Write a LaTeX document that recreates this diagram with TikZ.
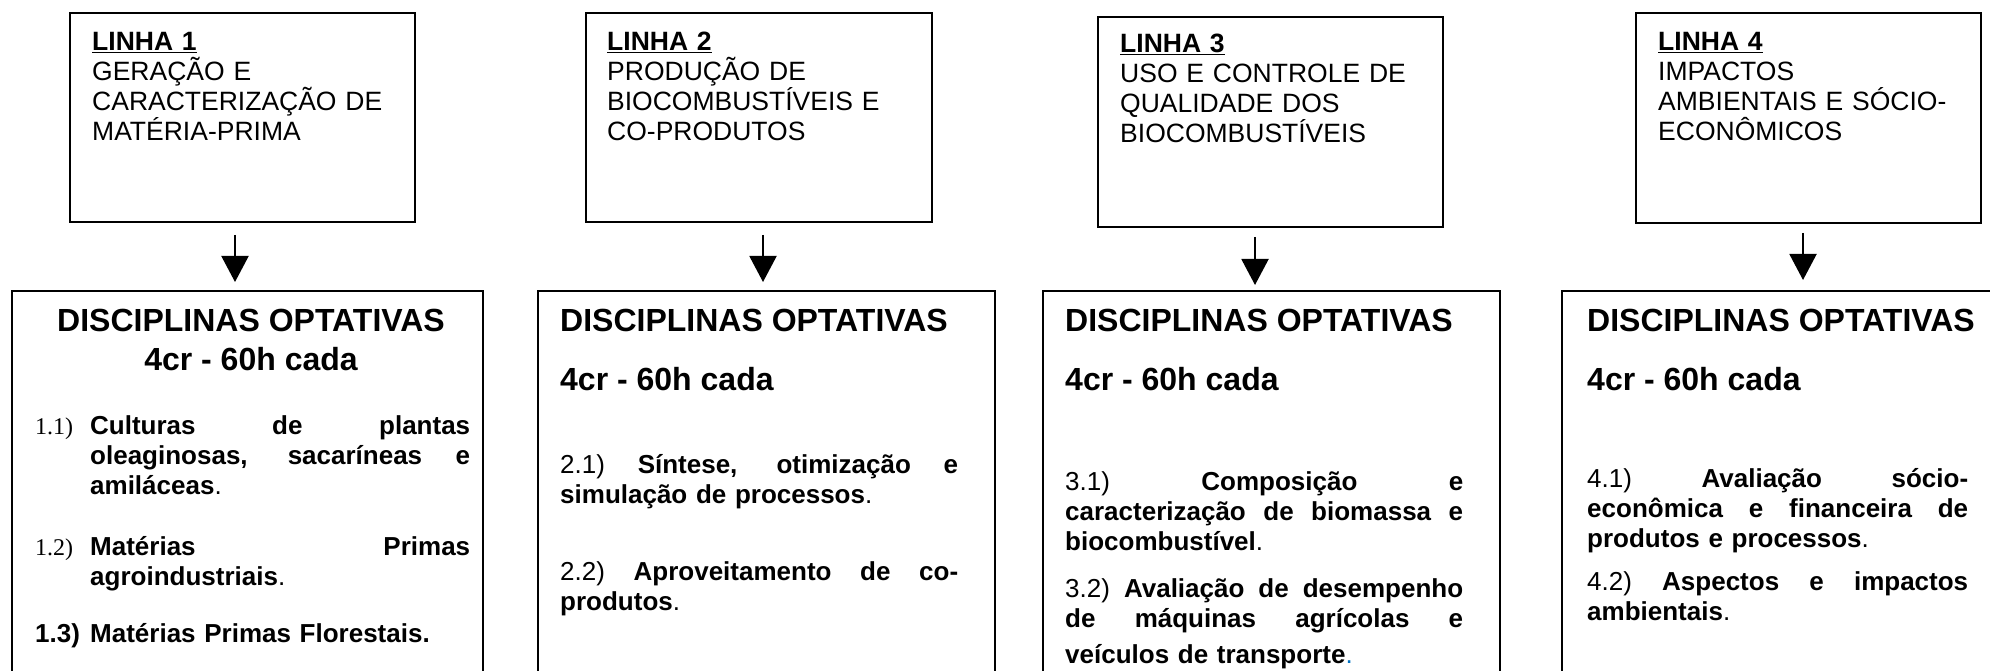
\documentclass[tikz,border=0pt]{standalone}
\usepackage{fontspec}
\setmainfont{Liberation Sans}
\newfontfamily\numserif{Liberation Serif}
\usetikzlibrary{arrows.meta}
\definecolor{azulponto}{RGB}{0,112,192}
\newcommand{\jus}[2]{\leavevmode\hbox to #1{\spaceskip=.278em plus 1fil\relax #2}}
\newcommand{\numitem}[1]{\makebox[55pt][l]{\numserif\fontsize{24}{30}\selectfont #1}}

\begin{document}
\begin{tikzpicture}[x=1pt,y=-1pt]
  \useasboundingbox (0,0) rectangle (1990,671);
  \clip (0,0) rectangle (1990,671);
  \begin{scope}[every node/.style={draw,line width=2.6pt,rectangle,anchor=north west,inner sep=0pt,outer sep=0pt}]
  \node[minimum width=345pt,minimum height=209pt] (t1) at (70,13) {};
  \node[minimum width=346pt,minimum height=209pt] (t2) at (586,13) {};
  \node[minimum width=345pt,minimum height=210pt] (t3) at (1098,17) {};
  \node[minimum width=345pt,minimum height=210pt] (t4) at (1636,13) {};
  \node[minimum width=471pt,minimum height=420pt] (d1) at (12,291) {};
  \node[minimum width=457pt,minimum height=420pt] (d2) at (538,291) {};
  \node[minimum width=457pt,minimum height=420pt] (d3) at (1043,291) {};
  \node[minimum width=470pt,minimum height=420pt] (d4) at (1562,291) {};
  \end{scope}
  \begin{scope}[every node/.style={inner sep=0pt,anchor=base west}]
  \begin{scope}[every node/.append style={text width=330pt,font=\fontsize{26.5}{30}\selectfont}]
  \node (r1) at (92,50.5) {\underline{\textbf{LINHA 1}}\\GERAÇÃO E\\CARACTERIZAÇÃO DE\\MATÉRIA-PRIMA};
  \node (r2) at (607,50.5) {\underline{\textbf{LINHA 2}}\\PRODUÇÃO DE\\BIOCOMBUSTÍVEIS E\\CO-PRODUTOS};
  \node (r3) at (1120,52.5) {\underline{\textbf{LINHA 3}}\\USO E CONTROLE DE\\QUALIDADE DOS\\BIOCOMBUSTÍVEIS};
  \node (r4) at (1658,50.5) {\underline{\textbf{LINHA 4}}\\IMPACTOS\\AMBIENTAIS E SÓCIO-\\ECONÔMICOS};
  \end{scope}
  \begin{scope}[every node/.append style={font=\fontsize{32}{36}\selectfont\bfseries}]
  \node[anchor=base] (h1) at (251,331.5) {DISCIPLINAS OPTATIVAS};
  \node[anchor=base] (c1) at (251,370.5) {4cr - 60h cada};
  \node (h2) at (560,331.5) {DISCIPLINAS OPTATIVAS};
  \node (c2) at (560,390.5) {4cr - 60h cada};
  \node (h3) at (1065,331.5) {DISCIPLINAS OPTATIVAS};
  \node (c3) at (1065,390.5) {4cr - 60h cada};
  \node (h4) at (1587,331.5) {DISCIPLINAS OPTATIVAS};
  \node (c4) at (1587,390.5) {4cr - 60h cada};
  \end{scope}
  \begin{scope}[every node/.append style={font=\fontsize{26}{30}\selectfont}]
  \node[text width=435pt] (i11) at (35,434) {\numitem{1.1)}\jus{380pt}{\textbf{Culturas de plantas}}\\
    \hspace*{55pt}\jus{380pt}{\textbf{oleaginosas, sacaríneas e}}\\
    \hspace*{55pt}\textbf{amiláceas}.};
  \node[text width=435pt] (i12) at (35,555) {\numitem{1.2)}\jus{380pt}{\textbf{Matérias Primas}}\\
    \hspace*{55pt}\textbf{agroindustriais}.};
  \node[text width=435pt] (i13) at (35,642) {\textbf{\makebox[55pt][l]{1.3)}Matérias Primas Florestais.}};
  \node[text width=398pt] (i21) at (560,473) {\jus{398pt}{2.1) \textbf{Síntese, otimização e}}\\
    \textbf{simulação de processos}.};
  \node[text width=398pt] (i22) at (560,580) {\jus{398pt}{2.2) \textbf{Aproveitamento de co-}}\\
    \textbf{produtos}.};
  \node[text width=398pt] (i31) at (1065,490) {\jus{398pt}{3.1) \textbf{Composição e}}\\
    \jus{398pt}{\textbf{caracterização de biomassa e}}\\
    \textbf{biocombustível}.};
  \node[text width=398pt] (i32) at (1065,597) {\jus{398pt}{3.2) \textbf{Avaliação de desempenho}}\\
    \jus{398pt}{\textbf{de máquinas agrícolas e}}\\[6pt]
    \textbf{veículos de transporte}{\color{azulponto}.}};
  \node[text width=381pt] (i41) at (1587,487) {\jus{381pt}{4.1) \textbf{Avaliação sócio-}}\\
    \jus{381pt}{\textbf{econômica e financeira de}}\\
    \textbf{produtos e processos}.};
  \node[text width=381pt] (i42) at (1587,590) {\jus{381pt}{4.2) \textbf{Aspectos e impactos}}\\
    \textbf{ambientais}.};
  \end{scope}
  \end{scope}
  \coordinate (a1) at (235,0);
  \coordinate (a2) at (763,0);
  \coordinate (a3) at (1255,0);
  \coordinate (a4) at (1803,0);
  \begin{scope}[every edge/.style={draw=black,line width=2pt,-{Triangle[length=26pt,width=27pt]}}]
  \path (t1.south -| a1) edge[shorten <=13pt,shorten >=9pt] (d1.north -| a1);
  \path (t2.south -| a2) edge[shorten <=13pt,shorten >=9pt] (d2.north -| a2);
  \path (t3.south -| a3) edge[shorten <=10pt,shorten >=6pt] (d3.north -| a3);
  \path (t4.south -| a4) edge[shorten <=10pt,shorten >=11pt] (d4.north -| a4);
  \end{scope}
\end{tikzpicture}
\end{document}
